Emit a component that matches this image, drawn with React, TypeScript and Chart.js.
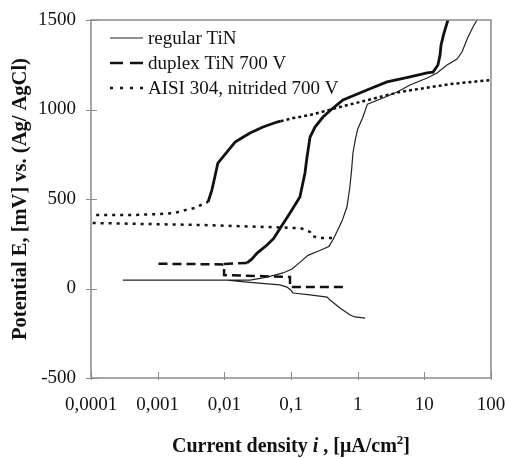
import React, { useEffect, useRef } from "react";
import { Chart, registerables } from "chart.js";

Chart.register(...registerables);

const FONT = "'Liberation Serif', 'Times New Roman', serif";

const X_TICKS = [0.0001, 0.001, 0.01, 0.1, 1, 10, 100];
const X_TICK_LABELS = ["0,0001", "0,001", "0,01", "0,1", "1", "10", "100"];
const Y_TICKS = [-500, 0, 500, 1000, 1500];

// x-axis title pieces: [text, italic, superscript]
const X_TITLE_PARTS: [string, boolean, boolean][] = [
  ["Current density ", false, false],
  ["i", true, false],
  [" , [μA/cm", false, false],
  ["2", false, true],
  ["]", false, false],
];
const Y_TITLE = "Potential E, [mV] vs. (Ag/ AgCl)";

// regular TiN (cathodic branch then anodic branch)
const REG_X = [1.29, 0.91, 0.77, 0.543, 0.385, 0.347, 0.193, 0.107, 0.1, 0.087, 0.068, 0.0219, 0.011, 0.0003,
  0.0043, 0.0243, 0.0437, 0.0759, 0.1035, 0.14, 0.18, 0.27, 0.37, 0.43, 0.5, 0.58, 0.69, 0.76, 0.81, 0.85, 0.92,
  1.0, 1.2, 1.4, 2.4, 3.9, 6.1, 11, 15.5, 21.9, 30.9, 36.7, 45.2, 53.7, 61.7];
const REG_Y = [-165, -159, -148, -109, -64, -48, -36, -25, -10, 8, 20, 36, 47, 47,
  47, 47, 64, 87, 109, 150, 185, 212, 235, 275, 325, 375, 455, 560, 660, 757, 830,
  890, 958, 1030, 1064, 1098, 1137, 1176, 1204, 1249, 1282, 1321, 1405, 1461, 1500];

// duplex TiN 700 V
const DUP_CATH_X = [0.6, 0.3, 0.0966, 0.0966, 0.03, 0.0099, 0.0099, 0.003, 0.001];
const DUP_CATH_Y = [8, 8, 8, 64, 70, 75, 134, 137, 138];
const DUP_AN_X = [0.0099, 0.0219];
const DUP_AN_Y = [137, 143];
const DUP_THICK_X = [0.0219, 0.026, 0.031, 0.0437, 0.055, 0.0966, 0.136, 0.162, 0.174, 0.193, 0.229, 0.302,
  0.427, 0.603, 1.38, 2.75, 6.1, 11, 13.5, 16, 17.2, 17.8, 19.7, 22.6];
const DUP_THICK_Y = [143, 165, 198, 243, 280, 422, 511, 645, 735, 846, 902, 958,
  1008, 1053, 1109, 1154, 1182, 1204, 1209, 1249, 1304, 1360, 1427, 1500];

// AISI 304, nitrided 700 V
const AISI_D1_X = [0.412, 0.272, 0.206, 0.193, 0.16, 0.137, 0.0484, 0.0043, 0.00077, 0.0001, 0.00003, 0.0001,
  0.000385, 0.00108, 0.0018, 0.00257, 0.00363, 0.0051, 0.0057];
const AISI_D1_Y = [282, 282, 293, 316, 330, 337, 343, 355, 360, 366, 390, 410,
  410, 416, 422, 438, 450, 478, 483];
const AISI_THICK_X = [0.0057, 0.0065, 0.0072, 0.008, 0.011, 0.0145, 0.0172, 0.0243, 0.038, 0.0617, 0.07];
const AISI_THICK_Y = [483, 550, 623, 701, 763, 818, 835, 869, 902, 930, 935];
const AISI_D2_X = [0.07, 0.107, 0.193, 0.543, 4.3, 24.3, 100];
const AISI_D2_Y = [935, 952, 969, 1014, 1098, 1142, 1165];

const LABELS = ["regular TiN", "duplex TiN 700 V", "AISI 304, nitrided 700 V"];

const pts = (xs: number[], ys: number[]) => xs.map((x, i) => ({ x, y: ys[i] }));

const AXIS_COLOR = "#8a8a8a";
const LINE_COLOR = "#111111";

const framePlugin = {
  id: "frameTicks",
  afterDraw(chart: any) {
    const { ctx, chartArea } = chart;
    const { left, top, right, bottom } = chartArea;
    const xs = chart.scales.x;
    const ys = chart.scales.y;
    ctx.save();
    ctx.strokeStyle = AXIS_COLOR;
    ctx.lineWidth = 1.5;
    ctx.strokeRect(left, top, right - left, bottom - top);
    ctx.lineWidth = 1;
    ctx.beginPath();
    X_TICKS.forEach((v) => {
      const px = Math.round(xs.getPixelForValue(v)) + 0.5;
      ctx.moveTo(px, bottom - 6);
      ctx.lineTo(px, bottom + 2);
    });
    Y_TICKS.forEach((v) => {
      const py = Math.round(ys.getPixelForValue(v)) + 0.5;
      ctx.moveTo(left - 5, py);
      ctx.lineTo(left + 6, py);
    });
    ctx.stroke();

    // x-axis title with italic "i" and superscript "2"
    const size = 20;
    const fontFor = (italic: boolean, sup: boolean) =>
      `${italic ? "italic " : ""}bold ${sup ? 13 : size}px ${FONT}`;
    let total = 0;
    X_TITLE_PARTS.forEach(([t, it, sup]) => {
      ctx.font = fontFor(it, sup);
      total += ctx.measureText(t).width;
    });
    let x = (left + right) / 2 - total / 2;
    const y = 447;
    ctx.fillStyle = "#111";
    ctx.textBaseline = "middle";
    ctx.textAlign = "left";
    X_TITLE_PARTS.forEach(([t, it, sup]) => {
      ctx.font = fontFor(it, sup);
      ctx.fillText(t, x, sup ? y - 6 : y);
      x += ctx.measureText(t).width;
    });
    ctx.restore();
  },
};

const legendPlugin = {
  id: "insideLegend",
  afterDraw(chart: any) {
    const { ctx, chartArea } = chart;
    const items = chart.data.datasets.filter((d: any) => d.inLegend);
    ctx.save();
    ctx.font = `19px ${FONT}`;
    ctx.textBaseline = "middle";
    ctx.textAlign = "left";
    items.forEach((d: any, i: number) => {
      const y = chartArea.top + 18 + i * 25;
      const x0 = chartArea.left + 19;
      ctx.strokeStyle = d.borderColor;
      ctx.lineWidth = d.legendWidth;
      ctx.setLineDash(d.legendDash);
      ctx.beginPath();
      ctx.moveTo(x0, y);
      ctx.lineTo(x0 + 33, y);
      ctx.stroke();
      ctx.setLineDash([]);
      ctx.fillStyle = "#111";
      ctx.fillText(d.label, x0 + 38, y + 1);
    });
    ctx.restore();
  },
};

const zeroPad = (scale: any) => {
  scale.paddingLeft = 0;
  scale.paddingRight = 0;
  scale.paddingTop = 0;
  scale.paddingBottom = 0;
};

export default function App() {
  const ref = useRef<HTMLCanvasElement | null>(null);

  useEffect(() => {
    document.body.style.margin = "0";
    const canvas = ref.current;
    if (!canvas) return;
    const base = { showLine: true, pointRadius: 0, borderColor: LINE_COLOR, fill: false, tension: 0 };
    const chart = new Chart(canvas, {
      type: "scatter",
      data: {
        datasets: [
          { ...base, label: LABELS[0], data: pts(REG_X, REG_Y), borderWidth: 1.2, borderColor: "#222",
            inLegend: true, legendDash: [], legendWidth: 1.2 } as any,
          { ...base, label: LABELS[1], data: pts(DUP_CATH_X, DUP_CATH_Y), borderWidth: 2.5, borderDash: [9, 5],
            inLegend: true, legendDash: [13, 7], legendWidth: 2.5 } as any,
          { ...base, label: LABELS[1] + " a", data: pts(DUP_AN_X, DUP_AN_Y), borderWidth: 2.5, borderDash: [9, 5] },
          { ...base, label: LABELS[1] + " b", data: pts(DUP_THICK_X, DUP_THICK_Y), borderWidth: 2.8 },
          { ...base, label: LABELS[2], data: pts(AISI_D1_X, AISI_D1_Y), borderWidth: 2.5, borderDash: [3, 5],
            inLegend: true, legendDash: [3, 7], legendWidth: 2.5 } as any,
          { ...base, label: LABELS[2] + " a", data: pts(AISI_THICK_X, AISI_THICK_Y), borderWidth: 2.8 },
          { ...base, label: LABELS[2] + " b", data: pts(AISI_D2_X, AISI_D2_Y), borderWidth: 2.5, borderDash: [3, 3] },
        ],
      },
      options: {
        responsive: false,
        animation: false,
        layout: { padding: { left: 0, top: 20, right: 15, bottom: 0 } },
        plugins: { legend: { display: false }, tooltip: { enabled: false } },
        scales: {
          x: {
            type: "logarithmic",
            min: 0.0001,
            max: 100,
            grid: { display: false, drawTicks: false },
            border: { display: false },
            afterBuildTicks: (scale: any) => {
              scale.ticks = X_TICKS.map((v) => ({ value: v }));
            },
            afterFit: (scale: any) => {
              scale.height = 80;
              zeroPad(scale);
            },
            ticks: {
              autoSkip: false,
              maxRotation: 0,
              padding: 16,
              color: "#111",
              font: { family: FONT, size: 19 },
              callback: (_v: any, i: number) => X_TICK_LABELS[i],
            },
            title: { display: false },
          },
          y: {
            type: "linear",
            min: -500,
            max: 1500,
            grid: { display: false, drawTicks: false },
            border: { display: false },
            afterBuildTicks: (scale: any) => {
              scale.ticks = Y_TICKS.map((v) => ({ value: v }));
            },
            afterFit: (scale: any) => {
              scale.width = 91;
              zeroPad(scale);
            },
            ticks: {
              padding: 15,
              color: "#111",
              font: { family: FONT, size: 19 },
              callback: (v: any) => String(v),
            },
            title: {
              display: true,
              text: Y_TITLE,
              color: "#111",
              font: { family: FONT, size: 20.5, weight: "bold" },
              padding: { top: 8, bottom: 0 },
            },
          },
        },
      },
      plugins: [framePlugin, legendPlugin],
    });
    return () => chart.destroy();
  }, []);

  return (
    <div style={{ width: 506, height: 458 }}>
      <canvas ref={ref} width={506} height={458} style={{ display: "block" }} />
    </div>
  );
}
